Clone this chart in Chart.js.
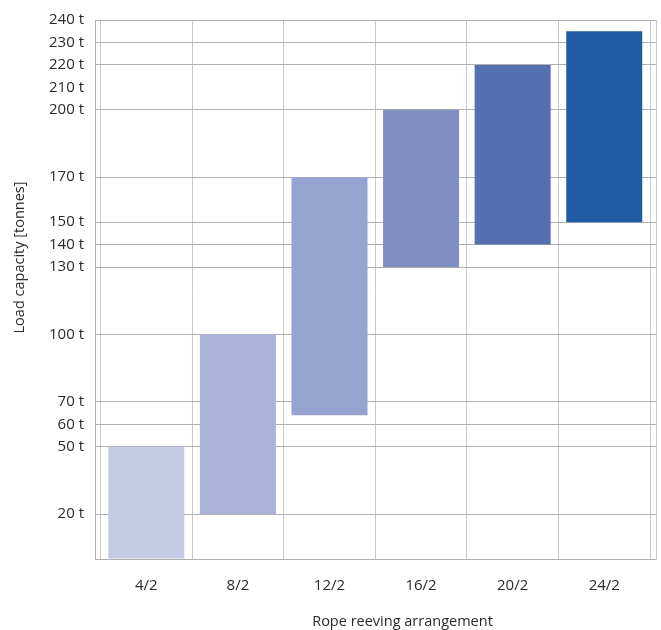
<!DOCTYPE html>
<html><head><meta charset="utf-8">
<script src="https://cdn.jsdelivr.net/npm/chart.js@4/dist/chart.umd.min.js"></script>
<style>html,body{margin:0;padding:0;background:#fff;overflow:hidden}</style>
</head><body>
<canvas id="c" width="661" height="630" style="width:661px;height:630px;display:block"></canvas>
<script>
const categories = ['4/2', '8/2', '12/2', '16/2', '20/2', '24/2'];
const lowValues = [0, 20, 64, 130, 140, 150];
const highValues = [50, 100, 170, 200, 220, 235];
const barColors = ['#c5cae5', '#abb3d9', '#95a3d0', '#7f8fc2', '#5570b0', '#215ba3'];
const yTickValues = [0, 20, 50, 60, 70, 100, 130, 140, 150, 170, 200, 210, 220, 230, 240];
const yNoGridValues = [210];
const xTitle = 'Rope reeving arrangement';
const yTitle = 'Load capacity [tonnes]';

const FONT_FAMILY = "'Open Sans', 'Noto Sans', sans-serif";
const TEXT_COLOR = '#2b2b2b';
const H_GRID = '#b0b0b0';
const V_GRID = '#c8c8c8';

const titlePlugin = {
  id: 'axisTitles',
  afterDraw(chart) {
    const {ctx, chartArea: a} = chart;
    ctx.save();
    ctx.fillStyle = TEXT_COLOR;
    ctx.font = '14.5px ' + FONT_FAMILY;
    ctx.textAlign = 'center';
    ctx.textBaseline = 'middle';
    ctx.fillText(xTitle, (a.left + a.right) / 2 + 27, a.bottom + 63);
    ctx.translate(20, (a.top + a.bottom) / 2 - 32);
    ctx.rotate(-Math.PI / 2);
    ctx.fillText(yTitle, 0, 0);
    ctx.restore();
  }
};

new Chart(document.getElementById('c'), {
  type: 'bar',
  data: {
    datasets: [{
      data: categories.map((c, i) => ({x: i, y: [lowValues[i], highValues[i]]})),
      backgroundColor: barColors,
      borderWidth: 0,
      categoryPercentage: 1,
      barPercentage: 0.83
    }]
  },
  options: {
    responsive: false,
    animation: false,
    devicePixelRatio: 1,
    layout: {padding: {top: 12, right: 5, left: 0, bottom: 0}},
    plugins: {legend: {display: false}, tooltip: {enabled: false}},
    scales: {
      x: {
        type: 'linear',
        offset: false,
        bounds: 'data',
        min: -0.56,
        max: categories.length - 1 + 0.565,
        afterBuildTicks: s => { s.ticks = categories.map((c, i) => ({value: i})); },
        afterFit: s => { s.height = 71; },
        ticks: {
          autoSkip: false, maxRotation: 0, padding: 18,
          color: TEXT_COLOR, font: {family: FONT_FAMILY, size: 15},
          callback: v => categories[v]
        },
        grid: {offset: true, drawTicks: false, color: V_GRID, lineWidth: 1},
        border: {display: true, color: H_GRID}
      },
      y: {
        type: 'linear',
        min: 0, max: 240,
        afterBuildTicks: s => { s.ticks = yTickValues.map(v => ({value: v})); },
        afterFit: s => { s.width = 95; },
        ticks: {
          autoSkip: false, padding: 11,
          color: TEXT_COLOR, font: {family: FONT_FAMILY, size: 15},
          callback: v => (v === 0 ? '' : v + ' t')
        },
        grid: {
          drawTicks: false, lineWidth: 1,
          color: ctx => (ctx.tick && yNoGridValues.includes(ctx.tick.value)) ? 'rgba(0,0,0,0)' : H_GRID
        },
        border: {display: true, color: H_GRID}
      },
      yRight: {
        type: 'linear', position: 'right',
        min: 0, max: 240,
        ticks: {display: false},
        grid: {display: false, drawTicks: false},
        border: {display: true, color: V_GRID}
      }
    }
  },
  plugins: [titlePlugin]
});
</script>
</body></html>
